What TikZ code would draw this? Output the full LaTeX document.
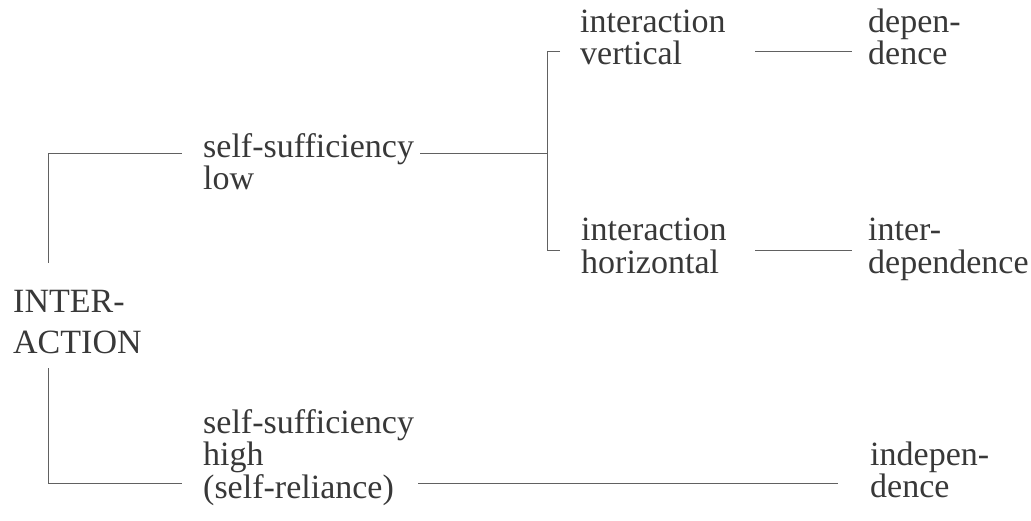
\documentclass[tikz,border=0pt]{standalone}
\usepackage{fontspec}
\setmainfont{Liberation Serif}
\begin{document}
\begin{tikzpicture}[x=1pt,y=-1pt,
  label/.style={inner sep=0pt, anchor=base west, align=left, text=black!78,
    font=\fontsize{34}{32.5}\selectfont},
  rule/.style={draw=black!62, line width=0.9pt}]
\useasboundingbox (0,0) rectangle (1031,521);

% text blocks (placed by the baseline of their last line, left edge)
\node[label, font=\fontsize{34}{40}\selectfont] (inter) at (13,353) {INTER-\\ACTION};
\node[label] (sslow)  at (203,190)   {self-sufficiency\\low};
\node[label] (sshigh) at (203,498)   {self-sufficiency\\high\\(self-reliance)};
\node[label] (ivert)  at (580,65)    {interaction\\vertical};
\node[label] (ihor)   at (581,273.5) {interaction\\horizontal};
\node[label] (dep)    at (868,65)    {depen-\\dence};
\node[label] (idep)   at (868,273.5) {inter-\\dependence};
\node[label] (indep)  at (870,497.5) {indepen-\\dence};

% left bracket
\coordinate (lu0) at (48,263);
\coordinate (lu1) at (182,153);
\coordinate (ld0) at (48,368);
\coordinate (ld1) at (182,483);
\draw[rule] (lu0) |- (lu1);
\draw[rule] (ld0) |- (ld1);

% branch from "self-sufficiency low"
\coordinate (ms0) at (420,153);
\coordinate (ms1) at (547,153);
\coordinate (mt)  at (560,51);
\coordinate (mb)  at (560,250);
\draw[rule] (ms0) -- (ms1);
\draw[rule] (mt) -- (547,51) -- (547,250) -- (mb);

% links to the outcomes
\coordinate (v0) at (755,51);
\coordinate (v1) at (852,51);
\coordinate (h0) at (755,250);
\coordinate (h1) at (852,250);
\coordinate (s0) at (418,483);
\coordinate (s1) at (838,483);
\draw[rule] (v0) -- (v1);
\draw[rule] (h0) -- (h1);
\draw[rule] (s0) -- (s1);
\end{tikzpicture}
\end{document}
